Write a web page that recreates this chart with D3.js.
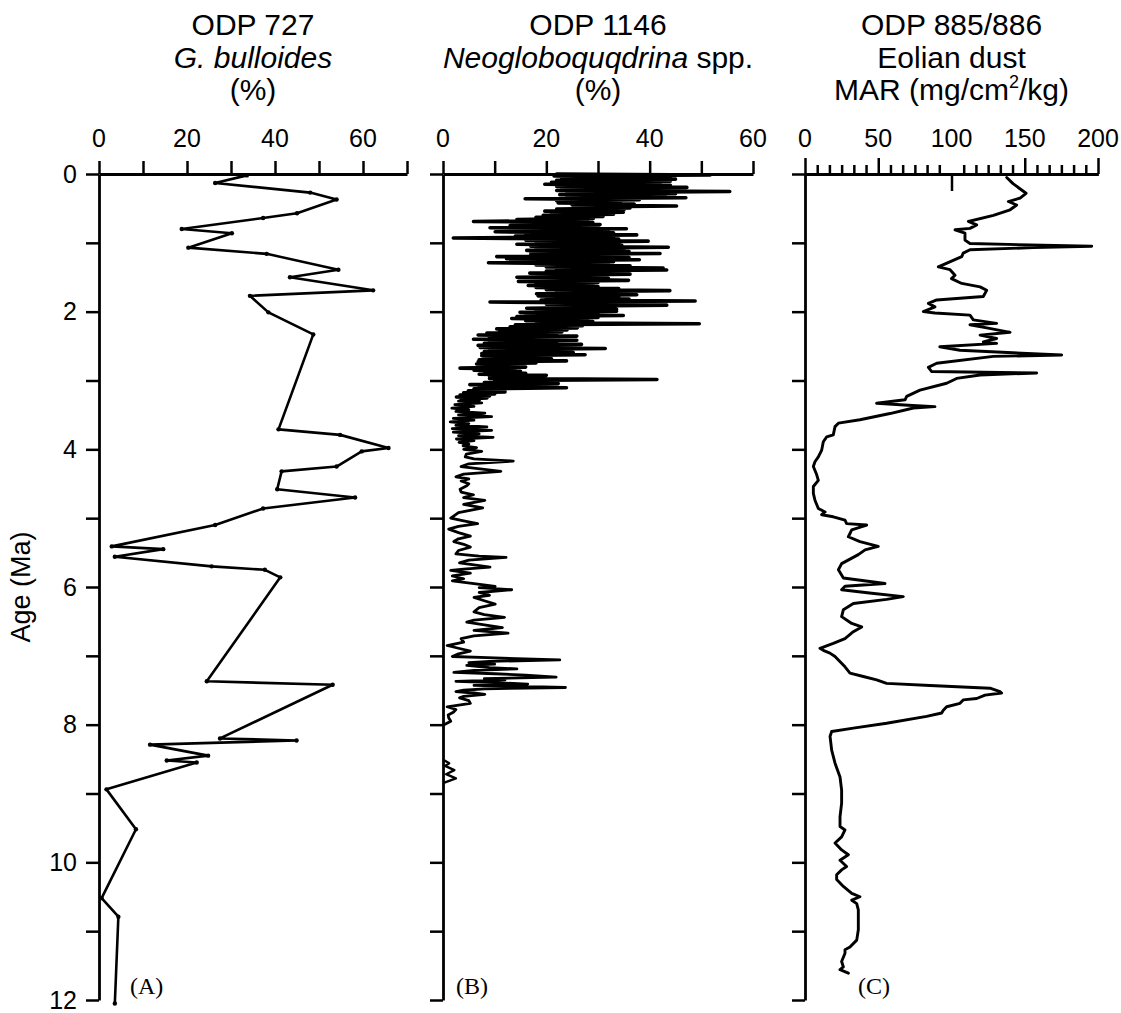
<!DOCTYPE html>
<html>
<head>
<meta charset="utf-8">
<script src="https://cdn.jsdelivr.net/npm/d3@7"></script>
<style>
  body { margin: 0; background: #fff; }
  svg { display: block; }
</style>
</head>
<body>
<div id="chart"></div>
<script>
const width = 1121, height = 1013;

// age axis (Ma), shared by all three panels
const ageTicks = [0, 1, 2, 3, 4, 5, 6, 7, 8, 9, 10, 11, 12];
const ageLabels = [0, 2, 4, 6, 8, 10, 12];

// percentage / MAR axes
const ticksA = [0, 10, 20, 30, 40, 50, 60, 70];
const labelsA = [0, 20, 40, 60];
const ticksB = [0, 10, 20, 30, 40, 50, 60];
const labelsB = [0, 20, 40, 60];
const labelsC = [0, 50, 100, 150, 200];
const majorC = [0, 50, 150, 200];

// ODP 727, G. bulloides (%) : [age, pct]
const a727 = [[0.02,33.6],[0.13,26.4],[0.27,48],[0.37,54],[0.57,45],[0.64,37.3],[0.80,18.8],[0.86,30.2],[1.07,20.3],
  [1.16,38.1],[1.39,54.4],[1.50,43.4],[1.69,62.3],[1.77,34.3],[2.01,38.5],[2.33,48.7],[3.71,40.8],[3.79,54.8],
  [3.98,65.8],[4.03,59.7],[4.25,54],[4.32,41.5],[4.58,40.5],[4.70,58.2],[4.86,37.3],[5.10,26.4],[5.41,2.9],
  [5.45,14.6],[5.56,3.6],[5.70,25.6],[5.75,37.7],[5.86,41.2],[7.37,24.5],[7.42,53.1],[8.20,27.5],[8.23,44.9],
  [8.29,11.6],[8.45,24.8],[8.52,15.4],[8.55,22.2],[8.94,1.7],[9.52,8.4],[10.52,0.6],[10.79,4.4],[12.05,3.6]];

// ODP 1146, Neogloboquadrina spp. (%) : [age, pct], densely sampled part (0-3.3 Ma)
const b1146Young = [[0.000,22],[0.015,51.7],[0.030,21.5],[0.045,44],[0.060,23],[0.075,45],[0.090,22],[0.105,44],
  [0.120,21],[0.135,42],[0.150,19.7],[0.165,44],[0.180,22],[0.195,47.2],[0.210,23],[0.225,46],[0.240,22],[0.255,55.5],
  [0.270,24],[0.285,45],[0.300,22.6],[0.315,43],[0.330,24],[0.345,47],[0.360,15.9],[0.375,38],[0.390,22],[0.405,34.3],
  [0.420,22.3],[0.435,37],[0.450,25],[0.465,45.2],[0.480,26],[0.495,36.2],[0.510,22],[0.525,35],[0.540,19.7],[0.555,34.9],
  [0.570,21],[0.585,33],[0.600,19.4],[0.615,31],[0.630,18],[0.645,29.1],[0.660,14.3],[0.675,28],[0.690,5.9],[0.705,29],
  [0.720,15],[0.735,30.4],[0.750,13],[0.765,30],[0.780,9.1],[0.795,35.5],[0.810,14],[0.825,32],[0.840,10.1],[0.855,33],
  [0.870,16],[0.885,37.5],[0.900,14],[0.915,33],[0.930,2.0],[0.945,34],[0.960,16],[0.975,39.7],[0.990,18],[1.005,34],
  [1.020,14.3],[1.035,34.6],[1.050,17],[1.065,43.6],[1.080,18],[1.095,35],[1.110,16.2],[1.125,36],[1.140,17],[1.155,42],
  [1.170,17],[1.185,35],[1.200,10.4],[1.215,36],[1.230,12.3],[1.245,38],[1.260,15],[1.275,33],[1.290,8.8],[1.305,32],
  [1.320,18],[1.335,36.2],[1.350,20],[1.365,42.6],[1.380,22],[1.395,43.3],[1.410,20],[1.425,34],[1.440,16.8],[1.455,36.2],
  [1.470,20],[1.485,31],[1.500,14.3],[1.515,32],[1.530,22],[1.545,35.9],[1.560,14.6],[1.575,30],[1.590,18],[1.605,29],
  [1.620,16.5],[1.635,30],[1.650,18],[1.665,34],[1.680,20],[1.695,43.9],[1.710,22],[1.725,34],[1.740,18.1],[1.755,37.5],
  [1.770,18.4],[1.785,34],[1.800,20],[1.815,36],[1.830,19],[1.845,48.8],[1.860,9.1],[1.875,30],[1.890,20],[1.905,43.3],
  [1.920,22],[1.935,31],[1.950,16.2],[1.965,33.6],[1.980,18],[1.995,33.6],[2.010,14.9],[2.025,30],[2.040,16],[2.055,34.9],
  [2.070,14.3],[2.085,30],[2.100,13.3],[2.115,28],[2.130,16],[2.145,29],[2.160,18.1],[2.175,49.6],[2.190,14],[2.205,27],
  [2.220,13],[2.235,26],[2.250,10.4],[2.265,24],[2.280,11],[2.295,23],[2.310,8.5],[2.325,22],[2.340,6.8],[2.355,25.9],
  [2.370,9],[2.385,20],[2.400,5.9],[2.415,25.9],[2.430,9],[2.445,22],[2.460,8],[2.475,26.8],[2.490,6.8],[2.505,20],
  [2.520,7.2],[2.535,31.4],[2.550,9],[2.565,22],[2.580,8],[2.595,25.2],[2.610,7.5],[2.625,27.5],[2.640,7.5],[2.655,20],
  [2.670,8],[2.685,21],[2.700,7],[2.715,23.9],[2.730,6.8],[2.745,18],[2.760,6.5],[2.775,14],[2.790,7],[2.805,16],
  [2.820,3.3],[2.835,13.9],[2.850,6],[2.865,15],[2.880,8.1],[2.895,16],[2.910,7],[2.925,20],[2.940,9],[2.955,18],
  [2.970,9],[2.985,41.4],[3.000,10],[3.015,18],[3.030,8],[3.045,22.3],[3.060,5.2],[3.075,16],[3.090,7],[3.105,23.9],
  [3.120,6],[3.135,12],[3.150,4.9],[3.165,12],[3.180,4],[3.195,10],[3.210,3.3],[3.225,9],[3.240,2.6],[3.255,8.5],
  [3.270,3.5],[3.285,7]];

// ODP 1146, older part (3.3-8 Ma), then the short 8.5-8.9 Ma piece
const b1146Old = [[3.285,7],[3.30,3],[3.325,7.5],[3.35,2.3],[3.375,6],[3.40,1.7],[3.425,5],[3.45,2.5],[3.475,8.1],[3.50,3],
  [3.525,9.4],[3.55,2.0],[3.575,6],[3.60,1.4],[3.625,5],[3.65,2.5],[3.675,8.5],[3.70,1.8],[3.725,9.4],[3.75,2],[3.775,7],
  [3.80,3],[3.825,9.7],[3.85,2.6],[3.875,6],[3.90,3.1],[3.925,5],[3.95,3.9],[3.975,6.5],[4.00,4],[4.03,7.5],[4.07,4.5],
  [4.11,4.3],[4.14,6],[4.17,13.6],[4.21,5],[4.25,3.5],[4.29,8],[4.32,11.2],[4.36,4],[4.40,2.5],[4.43,5],[4.46,3.5],[4.50,5],
  [4.53,4.6],[4.58,3.3],[4.62,3.5],[4.66,5.9],[4.70,4],[4.74,8.1],[4.80,4],[4.85,7.7],[4.92,3],[5.00,1.5],[5.04,4],[5.08,6.7],
  [5.12,3],[5.16,1.1],[5.21,3],[5.26,5.3],[5.30,3],[5.34,2.1],[5.38,4],[5.42,5.3],[5.47,3],[5.52,2.5],[5.55,7],[5.57,12.2],
  [5.61,5],[5.65,3.2],[5.68,6],[5.71,9.1],[5.74,4],[5.76,1.5],[5.80,5.3],[5.84,1.8],[5.88,4],[5.91,1.8],[5.95,6],[5.99,10.1],
  [6.01,7],[6.04,13.3],[6.08,7],[6.12,9],[6.15,6],[6.20,8],[6.25,10.1],[6.30,7],[6.36,6],[6.40,8],[6.44,11.9],[6.48,6],
  [6.51,4.6],[6.55,8],[6.59,11.5],[6.63,6],[6.67,12.6],[6.71,6],[6.75,3.5],[6.80,4],[6.85,0.8],[6.89,3],[6.93,5.3],[6.97,3],
  [7.01,1.8],[7.03,10],[7.06,22.6],[7.08,9],[7.10,5],[7.12,10],[7.14,4.6],[7.17,9],[7.19,14.3],[7.21,6],[7.24,2.1],[7.26,10],
  [7.28,16],[7.31,21.9],[7.33,8],[7.35,12],[7.37,2.5],[7.39,10],[7.41,16.4],[7.43,6],[7.44,12],[7.46,23.7],[7.48,8],[7.50,4],
  [7.52,2.5],[7.54,6],[7.56,8.1],[7.59,4],[7.61,3.2],[7.65,5],[7.69,5.3],[7.74,0.8],[7.78,2.5],[7.82,2],[7.86,1],[7.90,1.1],
  [7.95,1.5],[8.00,0.2]];
const b1146Late = [[8.52,0.3],[8.56,1.2],[8.60,0.4],[8.66,2.2],[8.72,0.6],[8.78,2.5],[8.84,0.4]];

// ODP 885/886, eolian dust MAR (mg/cm2/kg) : [age, MAR]
const c885 = [[0.05,137.7],[0.14,142],[0.28,150.9],[0.35,146.8],[0.40,138.8],[0.45,144.5],[0.52,140],[0.60,128.6],
  [0.69,111.5],[0.74,117.2],[0.79,112.6],[0.81,102.4],[0.86,109.2],[0.96,109.2],[1.01,112.6],[1.03,153.6],[1.05,195.7],
  [1.07,155.9],[1.10,112.6],[1.15,108],[1.20,107],[1.35,91],[1.39,99],[1.47,102.4],[1.52,100],[1.59,107],[1.64,119.5],
  [1.69,124],[1.78,121.7],[1.83,89.9],[1.88,84.2],[1.93,88.7],[2.00,80.8],[2.02,88.7],[2.05,112.6],[2.12,114.9],
  [2.17,130.8],[2.19,112.6],[2.24,125],[2.30,140],[2.34,119.5],[2.39,130.8],[2.44,121.7],[2.46,130.8],[2.51,92],
  [2.56,105.8],[2.63,175.2],[2.65,128.6],[2.75,89.9],[2.81,84.2],[2.87,86.5],[2.89,158.1],[2.92,119.5],[2.97,103.5],
  [3.04,96.7],[3.14,78.5],[3.23,69.4],[3.28,68.3],[3.33,48.9],[3.36,70.5],[3.38,88.7],[3.40,74],[3.48,58],[3.57,37.5],
  [3.62,22.8],[3.67,20.5],[3.79,19.3],[3.82,14.8],[3.89,12.5],[4.01,11.4],[4.11,9.1],[4.18,6.8],[4.25,5.7],[4.37,8],
  [4.45,9.1],[4.54,5.7],[4.64,5.7],[4.74,6.8],[4.86,9.1],[4.91,13.7],[4.95,11.4],[4.98,19.3],[5.03,27.3],[5.08,28.4],
  [5.10,42.1],[5.17,31.9],[5.27,29.6],[5.34,37.5],[5.41,50],[5.46,41],[5.53,36.4],[5.66,25],[5.75,22.8],[5.87,26.2],
  [5.95,54.6],[5.99,27.3],[6.04,25],[6.09,45.5],[6.14,67.1],[6.18,55.7],[6.24,33],[6.33,26.2],[6.43,25],[6.53,31.9],
  [6.58,38.7],[6.65,33],[6.75,27.3],[6.82,19.3],[6.89,10.2],[6.92,12.5],[6.96,17],[7.01,20.5],[7.06,22.8],[7.16,27.3],
  [7.25,30.7],[7.30,39.8],[7.35,48.9],[7.40,55.7],[7.43,85.3],[7.47,126.3],[7.52,133.1],[7.54,134.2],[7.57,122.9],
  [7.62,117.2],[7.64,108],[7.69,105.8],[7.74,96.7],[7.79,94.4],[7.83,93.3],[7.88,83],[7.98,55.7],[8.05,33],[8.10,18.2],
  [8.17,17.1],[8.37,18.2],[8.56,20.5],[8.76,23.9],[8.95,25],[9.14,25],[9.34,23.9],[9.48,23.9],[9.53,27.3],[9.63,25],
  [9.72,20.5],[9.82,25],[9.89,29.6],[9.97,23.9],[10.06,28.4],[10.11,25],[10.18,21.6],[10.25,21.6],[10.35,26.2],
  [10.45,31.9],[10.50,37.5],[10.55,31.9],[10.60,35.3],[10.69,36.4],[10.79,36.4],[10.98,36.4],[11.13,35.3],[11.23,30.7],
  [11.27,27.3],[11.32,27.3],[11.44,25],[11.52,26.2],[11.56,23.9],[11.61,29.6]];

const sans = "'Liberation Sans', Arial, sans-serif";
const serif = "'Liberation Serif', 'Times New Roman', serif";

const svg = d3.select("#chart")
              .append("svg")
              .attr("width", width)
              .attr("height", height)
              .style("font-family", sans);

const yScale = d3.scaleLinear().domain([0, 12]).range([174, 1000]);

const panels = [
  { left: 99,  right: 407,  domain: [0, 70],  tag: "(A)", tagX: 130, series: [a727], lw: [2.6], dots: true,  yLabels: true,
    title: [[{ t: "ODP 727" }], [{ t: "G. bulloides", it: true }], [{ t: "(%)" }]] },
  { left: 443, right: 753,  domain: [0, 60],  tag: "(B)", tagX: 456, series: [b1146Young, b1146Old, b1146Late], lw: [3.6, 2.8, 2.4], dots: false, yLabels: false,
    title: [[{ t: "ODP 1146" }], [{ t: "Neogloboquqdrina", it: true }, { t: " spp." }], [{ t: "(%)" }]] },
  { left: 805, right: 1098, domain: [0, 200], tag: "(C)", tagX: 858, series: [c885], lw: [2.9], dots: false, yLabels: false,
    title: [[{ t: "ODP 885/886" }], [{ t: "Eolian dust" }], [{ t: "MAR (mg/cm" }, { t: "2", sup: true }, { t: "/kg)" }]] }
];

const styleAxis = (g) => {
  g.select(".domain").attr("stroke", "#000").attr("stroke-width", 2.8);
  g.selectAll(".tick line").attr("stroke", "#000").attr("stroke-width", 2.5);
  g.selectAll(".tick text").attr("fill", "#000").style("font-size", "25px").style("font-family", sans);
};

panels.forEach((p, i) => {
  const x = d3.scaleLinear().domain(p.domain).range([p.left, p.right]);
  const g = svg.append("g");

  // title, three centred lines
  const cx = (p.left + p.right) / 2;
  p.title.forEach((line, li) => {
    const t = g.append("text")
               .attr("x", cx)
               .attr("y", 35 + li * 32.5)
               .attr("text-anchor", "middle")
               .style("font-size", "30px");
    line.forEach((seg, k) => {
      const s = t.append("tspan").text(seg.t);
      if (seg.it) s.style("font-style", "italic");
      if (seg.sup) s.style("font-size", "18px").attr("dy", -12);
      else if (k > 0 && line[k - 1].sup) s.attr("dy", 12);
    });
  });

  // age axis
  g.append("g")
   .attr("transform", `translate(${p.left},0)`)
   .call(d3.axisLeft(yScale)
           .tickValues(ageTicks)
           .tickSize(13)
           .tickSizeOuter(0)
           .tickPadding(9)
           .tickFormat(d => (p.yLabels && ageLabels.includes(d)) ? d : ""))
   .call(styleAxis);

  // value axis on top
  if (i < 2) {
    g.append("g")
     .attr("transform", `translate(0,${yScale(0)})`)
     .call(d3.axisTop(x).tickValues(i === 0 ? ticksA : ticksB).tickSize(13).tickSizeOuter(0).tickFormat(""))
     .call(styleAxis);
  } else {
    const minor = d3.range(0, 200.001, 200 / 24).filter(v => !majorC.some(m => Math.abs(m - v) < 0.01) && Math.abs(v - 100) > 0.01);
    g.append("g")
     .attr("transform", `translate(0,${yScale(0)})`)
     .call(d3.axisTop(x).tickValues(minor).tickSize(9).tickSizeOuter(0).tickFormat(""))
     .call(styleAxis);
    g.append("g")
     .attr("transform", `translate(0,${yScale(0)})`)
     .call(d3.axisTop(x).tickValues(majorC).tickSize(16).tickSizeOuter(0).tickFormat(""))
     .call(styleAxis);
    g.append("g")
     .attr("transform", `translate(0,${yScale(0)})`)
     .call(d3.axisBottom(x).tickValues([100]).tickSize(17).tickSizeOuter(0).tickFormat(""))
     .call(styleAxis);
  }

  const labs = i === 0 ? labelsA : i === 1 ? labelsB : labelsC;
  g.selectAll("text.xlab")
   .data(labs)
   .join("text")
   .attr("class", "xlab")
   .attr("x", d => x(d))
   .attr("y", 147)
   .attr("text-anchor", "middle")
   .style("font-size", "25px")
   .text(d => d);

  // data line(s)
  const line = d3.line().x(d => x(d[1])).y(d => yScale(d[0]));
  p.series.forEach((s, k) => {
    g.append("path")
     .datum(s)
     .attr("d", line)
     .attr("fill", "none")
     .attr("stroke", "#000")
     .attr("stroke-width", p.lw[k])
     .attr("stroke-linejoin", "round")
     .attr("stroke-linecap", "round");
  });

  if (p.dots) {
    g.selectAll("circle")
     .data(p.series[0])
     .join("circle")
     .attr("cx", d => x(d[1]))
     .attr("cy", d => yScale(d[0]))
     .attr("r", 2.2)
     .attr("fill", "#000");
  }

  g.append("text")
   .attr("x", p.tagX)
   .attr("y", 994)
   .style("font-family", serif)
   .style("font-size", "24px")
   .text(p.tag);
});

svg.append("text")
   .attr("transform", "translate(30,587) rotate(-90)")
   .attr("text-anchor", "middle")
   .style("font-size", "27px")
   .text("Age (Ma)");
</script>
</body>
</html>
